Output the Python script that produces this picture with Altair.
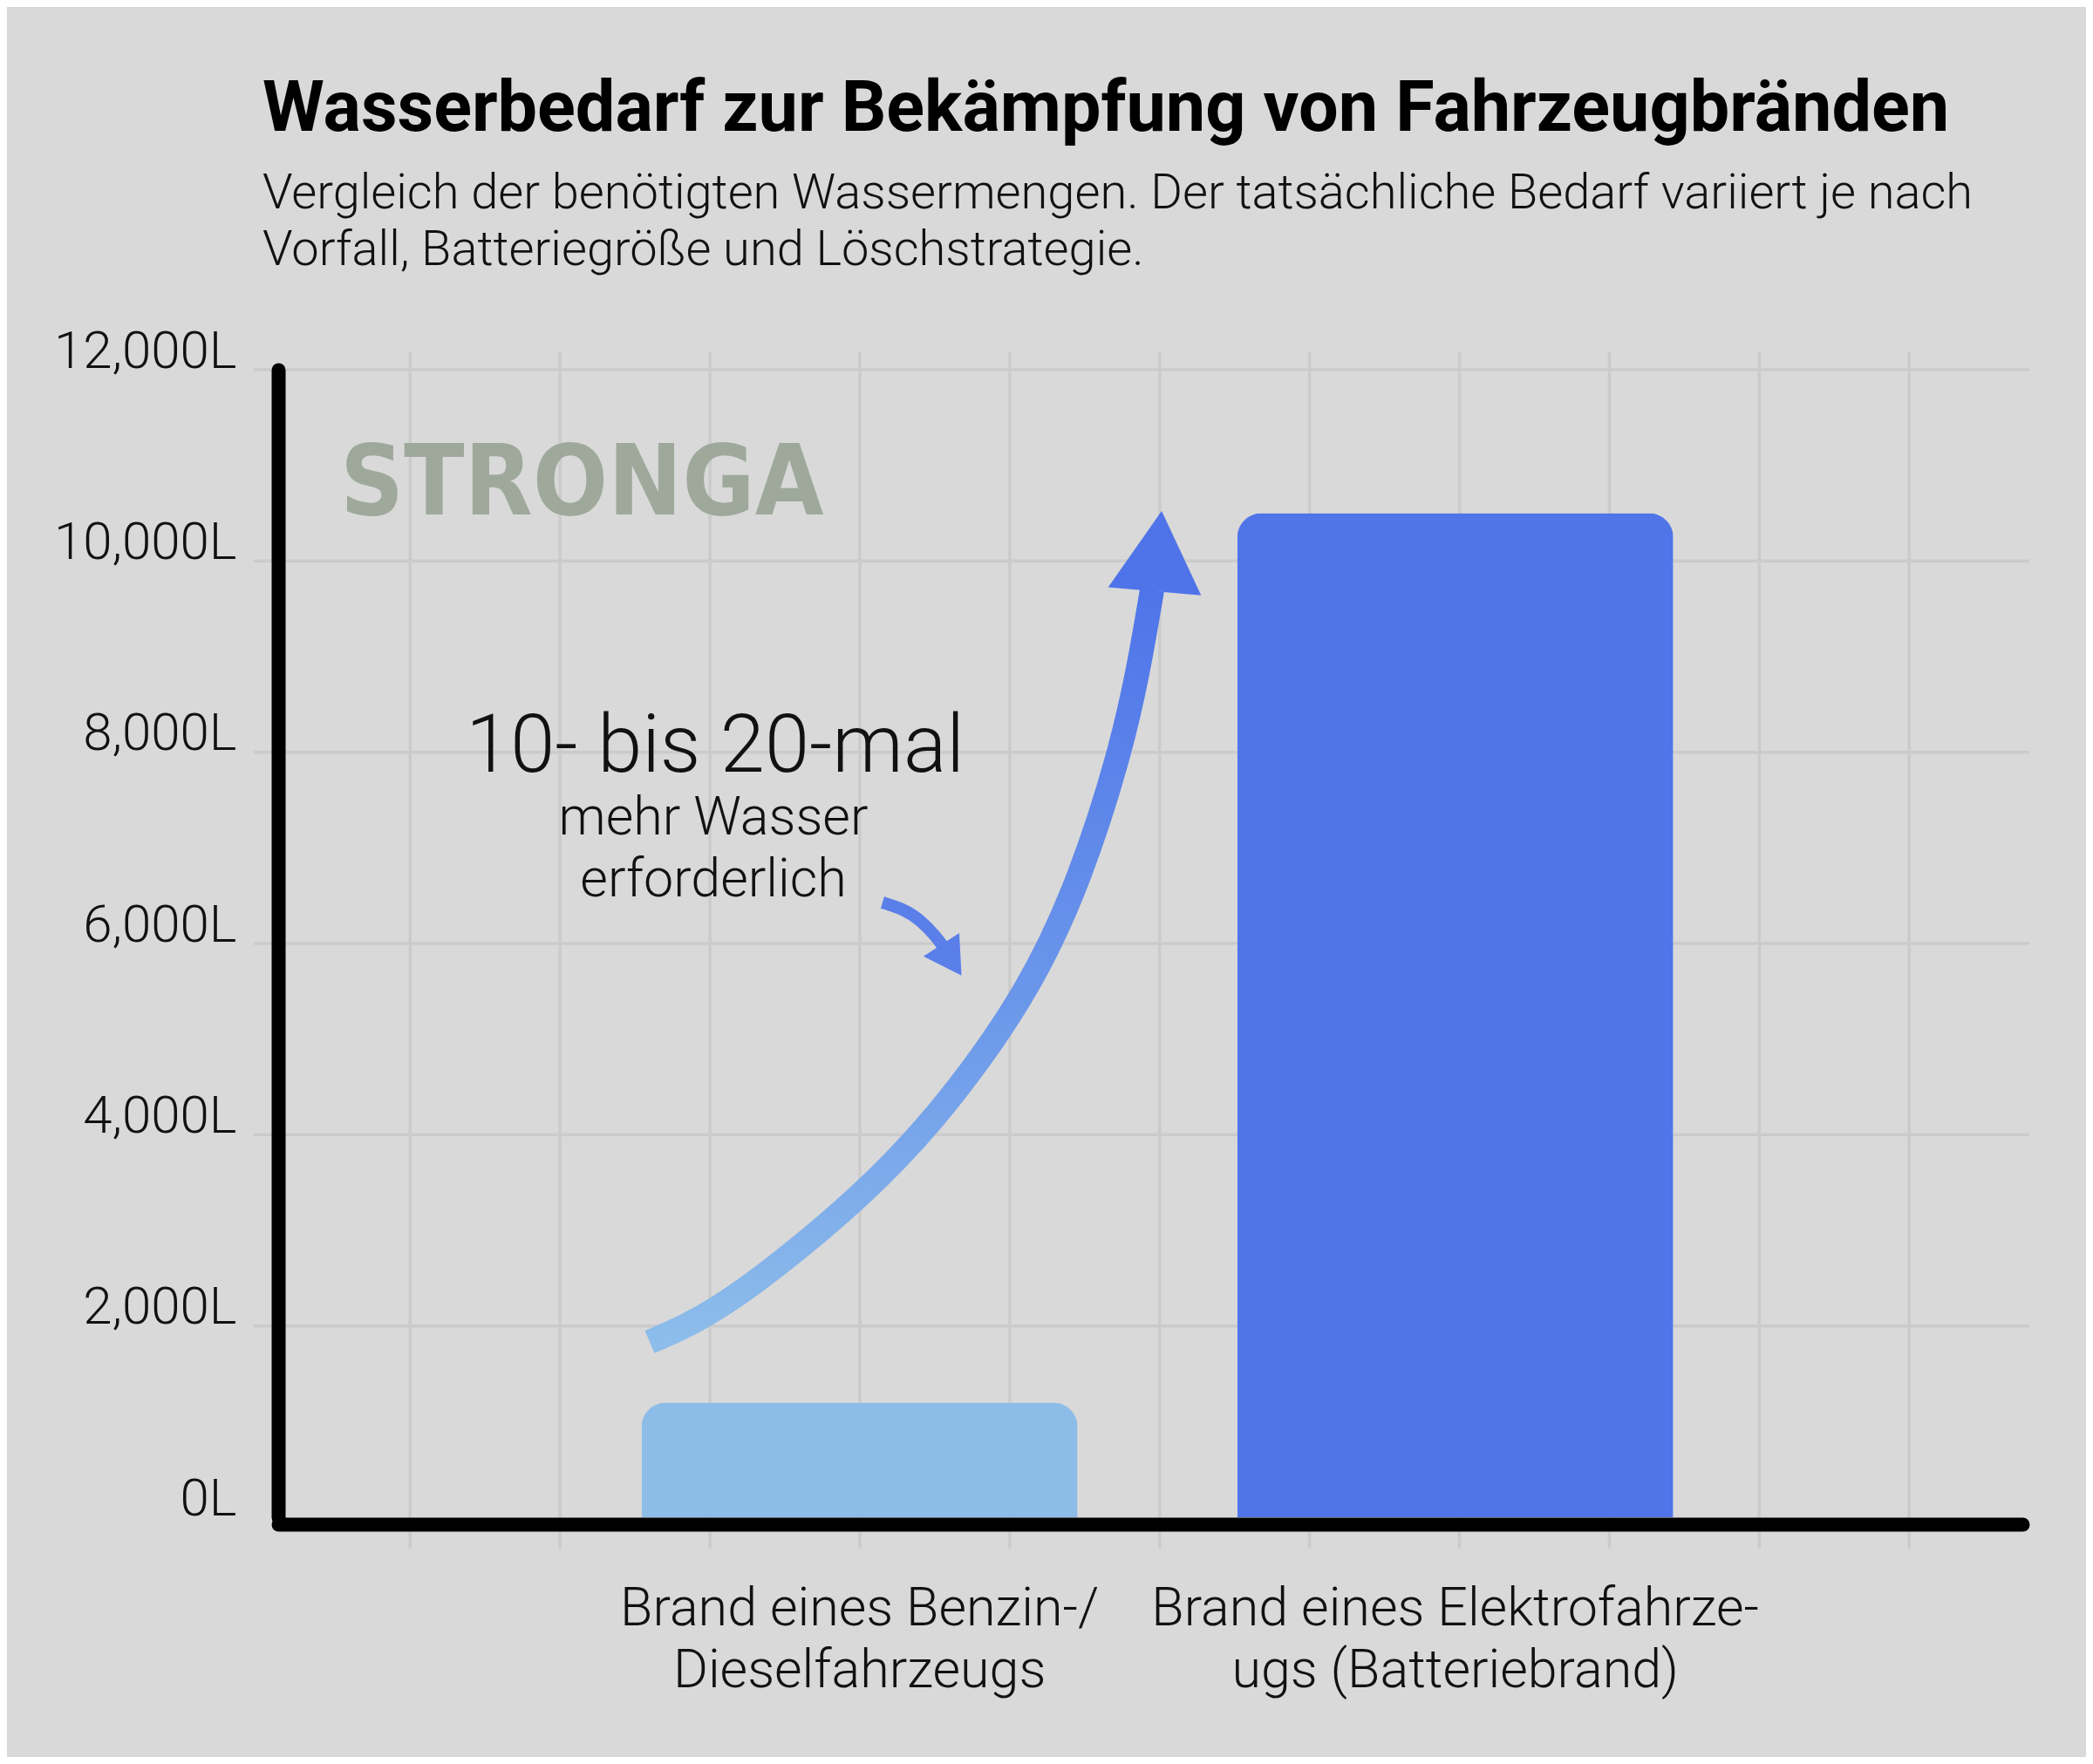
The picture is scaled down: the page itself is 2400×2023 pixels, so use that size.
import altair as alt
import pandas as pd

# ---------------- data ----------------
categories = ["Brand eines Benzin-/\nDieselfahrzeugs",
              "Brand eines Elektrofahrze-\nugs (Batteriebrand)"]
water_litres = [1200, 10500]
bar_colors = ["#89bbea", "#4870ea"]

y_ticks = [0, 2000, 4000, 6000, 8000, 10000, 12000]
grid_columns = [1, 2, 3, 4, 5, 6, 7, 8, 9, 10, 11]

# curved arrow (x in grid columns, y in litres)
big_arrow_x = [2.598, 3.162, 3.977, 4.588, 5.105, 5.466, 5.716, 5.856, 5.949]
big_arrow_y = [1833, 2307, 3337, 4359, 5526, 6729, 7933, 8872, 9693]
big_head_x = [5.990]
big_head_y = [10103]

small_arrow_x = [4.151, 4.285, 4.402, 4.500, 4.559]
small_arrow_y = [6428, 6355, 6237, 6082, 5963]
small_head_x = [4.611]
small_head_y = [5826]

headline = ["10- bis 20-mal"]
headline_x = [3.035]
headline_y = [7792]
subline = ["mehr Wasser\nerforderlich"]
subline_x = [3.023]
subline_y = [7136]

watermark = ["STRONGA"]
watermark_x = [0.533]
watermark_y = [10486]

title_text = "Wasserbedarf zur Bekämpfung von Fahrzeugbränden"
subtitle_text = ["Vergleich der benötigten Wassermengen. Der tatsächliche Bedarf variiert je nach",
                 "Vorfall, Batteriegröße und Löschstrategie."]

# ---------------- layout ----------------
W, H = 2000, 1316
GRID = "#cbcbcb"
FONT = "Roboto"

yscale = alt.Scale(domain=[0, 12000], nice=False, zero=True)
gx = alt.Scale(domain=[0.12, 11.755], nice=False, zero=False)

# one shared y axis definition, used identically by every layer that has a y field
y_axis = alt.Axis(title=None, values=y_ticks,
                  labelExpr="format(datum.value, ',') + 'L'",
                  labelFont=FONT, labelFontWeight=300, labelFontSize=60,
                  labelColor="#111111", labelBaseline="alphabetic",
                  labelOffset=-3, labelPadding=48, labelLimit=2000,
                  ticks=False, tickSize=0, zindex=1,
                  domainColor="#000000", domainWidth=16, domainCap="round",
                  grid=False)


def Y(field):
    return alt.Y(field, scale=yscale, axis=y_axis)


bars_df = pd.DataFrame({"category": categories, "litres": water_litres})

hgrid = alt.Chart(pd.DataFrame({"v": y_ticks[1:]})).mark_rule(
    color=GRID, strokeWidth=3.5
).encode(
    y=Y("v:Q"),
    x=alt.value(-28), x2=alt.value(W + 8),
)

vgrid = alt.Chart(pd.DataFrame({"c": grid_columns})).mark_rule(
    color=GRID, strokeWidth=3.5
).encode(
    x=alt.X("c:Q", scale=gx, axis=None),
    y=alt.value(-21), y2=alt.value(H + 36),
)

wm = alt.Chart(pd.DataFrame({"x": watermark_x, "y": watermark_y, "t": watermark})).mark_text(
    font="'DejaVu Sans Condensed', 'Liberation Sans Narrow', 'Arial Narrow', Roboto",
    fontWeight="bold", fontSize=113,
    align="left", baseline="alphabetic", color="#9aa698", opacity=0.93
).encode(
    x=alt.X("x:Q", scale=gx, axis=None),
    y=Y("y:Q"),
    text="t:N",
)

bars = alt.Chart(bars_df).mark_bar(
    cornerRadiusTopLeft=28, cornerRadiusTopRight=28, opacity=0.95
).encode(
    x=alt.X("category:N", sort=categories,
            scale=alt.Scale(paddingInner=0.268, paddingOuter=0.598, align=0.51),
            axis=alt.Axis(title=None, labelExpr="split(datum.label, '\\n')",
                          labelAngle=0, labelFont=FONT, labelFontWeight=300,
                          labelFontSize=61, labelLineHeight=71, labelColor="#111111",
                          labelBaseline="alphabetic", labelPadding=115, labelLimit=2000,
                          labelOverlap=False, zindex=1,
                          ticks=False, tickSize=0, offset=8,
                          domainColor="#000000", domainWidth=16, domainCap="round",
                          grid=False)),
    y=Y("litres:Q"),
    color=alt.Color("category:N", scale=alt.Scale(domain=categories, range=bar_colors),
                    legend=None),
)

big_df = pd.DataFrame({"x": big_arrow_x, "y": big_arrow_y, "o": list(range(len(big_arrow_x)))})
big_line = alt.Chart(big_df).mark_line(
    stroke=alt.Gradient(
        gradient="linear",
        stops=[alt.GradientStop(offset=0, color="#8dbdea"),
               alt.GradientStop(offset=0.45, color="#6b97ea"),
               alt.GradientStop(offset=1, color="#4f74e9")],
        x1=0, x2=0, y1=1, y2=0,
    ),
    strokeWidth=28, strokeCap="butt", interpolate="natural",
).encode(
    x=alt.X("x:Q", scale=gx, axis=None),
    y=Y("y:Q"),
    order="o:Q",
)

big_head = alt.Chart(pd.DataFrame({"x": big_head_x, "y": big_head_y})).mark_point(
    shape="triangle-up", size=11449, angle=5, filled=True,
    fill="#4f74e9", opacity=1, strokeWidth=0,
).encode(
    x=alt.X("x:Q", scale=gx, axis=None),
    y=Y("y:Q"),
)

small_df = pd.DataFrame({"x": small_arrow_x, "y": small_arrow_y, "o": list(range(len(small_arrow_x)))})
small_line = alt.Chart(small_df).mark_line(
    color="#5b7fe9", strokeWidth=14, strokeCap="butt", interpolate="natural",
).encode(
    x=alt.X("x:Q", scale=gx, axis=None),
    y=Y("y:Q"),
    order="o:Q",
)

small_head = alt.Chart(pd.DataFrame({"x": small_head_x, "y": small_head_y})).mark_point(
    shape="triangle-up", size=2400, angle=147, filled=True,
    fill="#5b7fe9", opacity=1, strokeWidth=0,
).encode(
    x=alt.X("x:Q", scale=gx, axis=None),
    y=Y("y:Q"),
)

head_txt = alt.Chart(pd.DataFrame({"x": headline_x, "y": headline_y, "t": headline})).mark_text(
    font=FONT, fontWeight=300, fontSize=92, align="center", baseline="alphabetic",
    color="#111111",
).encode(
    x=alt.X("x:Q", scale=gx, axis=None),
    y=Y("y:Q"),
    text="t:N",
)

sub_txt = alt.Chart(pd.DataFrame({"x": subline_x, "y": subline_y, "t": subline})).mark_text(
    font=FONT, fontWeight=300, fontSize=61, align="center", baseline="alphabetic",
    lineBreak="\n", lineHeight=71, color="#111111",
).encode(
    x=alt.X("x:Q", scale=gx, axis=None),
    y=Y("y:Q"),
    text="t:N",
)

chart = alt.layer(
    hgrid, vgrid, wm, bars, big_line, big_head, small_line, small_head, head_txt, sub_txt
).resolve_scale(x="independent").properties(
    width=W, height=H,
    title=alt.TitleParams(
        text=title_text, subtitle=subtitle_text,
        anchor="start", frame="group", dx=-18,
        font=FONT, fontSize=81, fontWeight=700, color="#000000",
        subtitleFont=FONT, subtitleFontSize=56, subtitleFontWeight=300,
        subtitleColor="#111111", subtitleLineHeight=65, subtitlePadding=28,
        offset=57,
    ),
    autosize=alt.AutoSizeParams(type="none"),
    padding={"left": 311, "top": 416, "right": 73, "bottom": 275},
    background="#d9d9d9",
).configure_view(stroke=None)

chart.save("out.html", embed_options={"renderer": "svg", "actions": False})
